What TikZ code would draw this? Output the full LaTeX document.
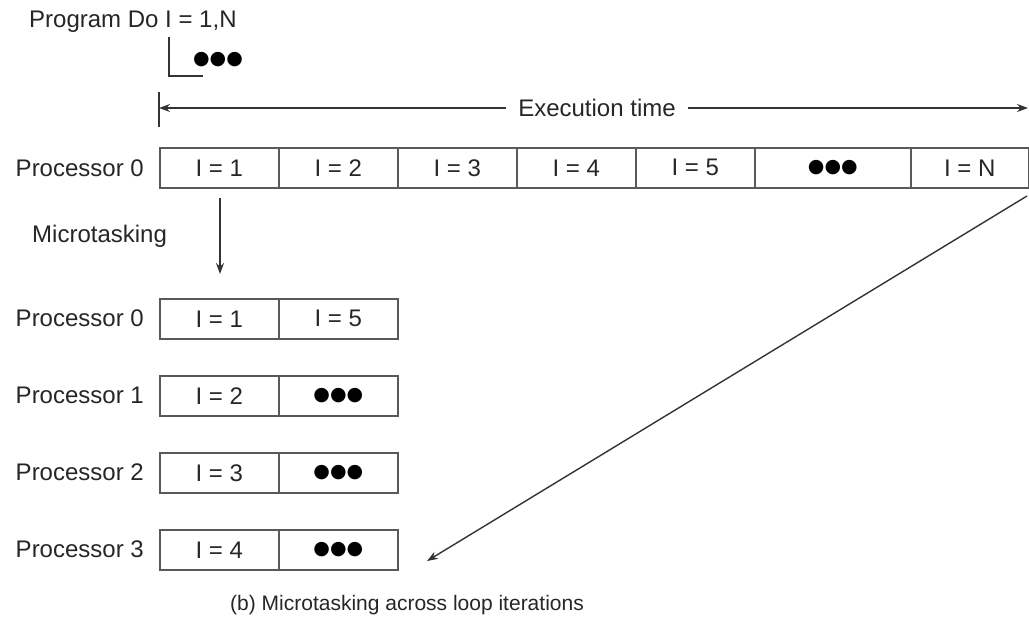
\documentclass[tikz,border=0pt]{standalone}
\usepackage{fontspec}
\setmainfont{Liberation Sans}
\newfontfamily\dvs{DejaVu Sans}
\usetikzlibrary{arrows.meta}
\begin{document}
\begin{tikzpicture}[x=1pt,y=-1pt,
  every node/.style={font=\fontsize{24}{28}\selectfont, text=black!85, inner sep=0pt},
  cell/.style={draw=black!65, line width=1.6pt, minimum height=40pt, anchor=north west},
  lbl/.style={anchor=east},
  conn/.style={draw=black!80, line width=1.4pt},
  arr/.style={conn, -{Stealth[length=11pt,width=8pt]}},
  dots/.style={font=\dvs\fontsize{19}{22}\selectfont, text=black}
]
\useasboundingbox (0,0) rectangle (1029,621);
% header
\node[anchor=west] (prog) at (29,22) {Program Do I = 1,N};
\node[dots] (pdots) at (218,60) {●●●};
\coordinate (bt) at (169,37);
\coordinate (bc) at (169,76);
\coordinate (be) at (203,76);
\draw[conn] (bt) -- (bc) -- (be);
% execution time
\coordinate (barT) at (159,92);
\coordinate (barB) at (159,127);
\coordinate (tl) at (159,108);
\coordinate (tr) at (1028,108);
\draw[conn] (barT) -- (barB);
\node (exec) at (597,108) {Execution time};
\draw[arr] (exec.west) ++(-12,0) coordinate (exl) -- (tl);
\draw[arr] (exec.east) ++(12,0) coordinate (exr) -- (tr);
% top row
\node[lbl] (p0) at (144,168) {Processor 0};
\node[cell, minimum width=119pt] (c1) at (159,147) {I = 1};
\node[cell, minimum width=119pt] (c2) at (278,147) {I = 2};
\node[cell, minimum width=119pt] (c3) at (397,147) {I = 3};
\node[cell, minimum width=119pt] (c4) at (516,147) {I = 4};
\node[cell, minimum width=119pt] (c5) at (635,147) {I = 5};
\node[cell, minimum width=156pt] (c6) at (754,147) {\phantom{I}};
\node[dots] (c6d) at (c6.center) {●●●};
\node[cell, minimum width=118pt] (c7) at (910,147) {I = N};
% microtasking
\node[anchor=west] (micro) at (32,236) {Microtasking};
\coordinate (ma) at (220,198);
\coordinate (mb) at (220,274);
\draw[arr] (ma) -- (mb);
% lower rows
\node[lbl] (q0) at (144,318) {Processor 0};
\node[cell, minimum width=119pt] (a1) at (159,298) {I = 1};
\node[cell, minimum width=119pt] (a2) at (278,298) {I = 5};
\node[lbl] (q1) at (144,395) {Processor 1};
\node[cell, minimum width=119pt] (b1) at (159,375) {I = 2};
\node[cell, minimum width=119pt] (b2) at (278,375) {\phantom{I}};
\node[dots] (b2d) at (b2.center) {●●●};
\node[lbl] (q2) at (144,472) {Processor 2};
\node[cell, minimum width=119pt] (d1) at (159,452) {I = 3};
\node[cell, minimum width=119pt] (d2) at (278,452) {\phantom{I}};
\node[dots] (d2d) at (d2.center) {●●●};
\node[lbl] (q3) at (144,549) {Processor 3};
\node[cell, minimum width=119pt] (e1) at (159,529) {I = 4};
\node[cell, minimum width=119pt] (e2) at (278,529) {\phantom{I}};
\node[dots] (e2d) at (e2.center) {●●●};
% diagonal
\coordinate (ds) at (1027,196);
\coordinate (de) at (427,561);
\draw[arr] (ds) -- (de);
% caption
\node[anchor=west, font=\fontsize{21}{25}\selectfont] (cap) at (230,605) {(b) Microtasking across loop iterations};
\end{tikzpicture}
\end{document}
